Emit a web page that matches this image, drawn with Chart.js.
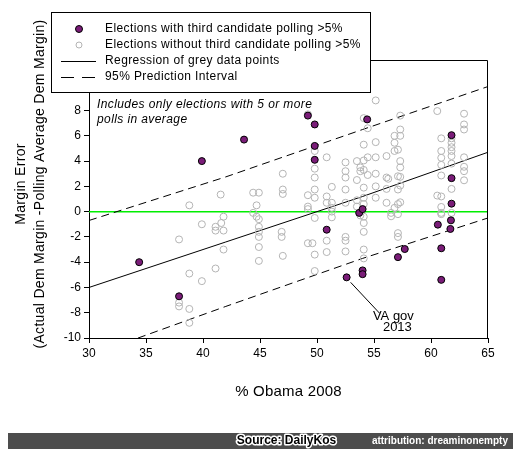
<!DOCTYPE html>
<html>
<head>
<meta charset="utf-8">
<script src="https://cdn.jsdelivr.net/npm/chart.js@4.4.1/dist/chart.umd.min.js"></script>
<style>
  html, body { margin: 0; padding: 0; background: #fff; }
  #wrap { width: 516px; height: 459px; position: relative; }
</style>
</head>
<body>
<div id="wrap"><canvas id="chart" width="516" height="459"></canvas></div>
<script>
// elections with a third candidate polling >5% (purple dots)
const thirdX = [34.4, 37.9, 39.9, 43.6, 49.2, 49.8, 49.8, 49.8, 54.4, 61.8, 61.8, 61.8, 53.7, 54.0, 50.85,
  52.6, 54.0, 54.0, 57.7, 57.1, 60.6, 60.9, 60.9, 61.75, 61.7];
const thirdY = [-4.0, -6.7, 4.0, 5.7, 7.6, 6.9, 5.2, 4.1, 7.3, 6.05, 2.65, 0.63, -0.1, 0.2, -1.43,
  -5.2, -4.65, -4.95, -2.96, -3.6, -1.03, -2.9, -5.4, -0.69, -1.37];

// elections without a third candidate (grey circles), grouped by % Obama column
const otherColX = [37.9, 38.8, 39.9, 41.1, 41.55, 41.6, 41.8, 44.4, 44.7, 44.9, 46.9, 47.0, 49.2, 49.6, 49.8,
  50.85, 51.3, 52.5, 53.5, 53.8, 54.1, 54.45, 55.15, 56.1, 56.25, 56.5, 56.8, 57.1, 57.3, 60.55, 60.9, 61.8, 62.9];
const otherColY = [
  [-2.2, -7.2, -7.5],
  [0.5, -4.9, -7.7, -8.8],
  [-1.0, -5.5],
  [-1.2, -1.5, -4.5],
  [1.35],
  [-0.9],
  [-0.4, -1.5, -3.0],
  [1.5, -0.1],
  [0.5, -0.4],
  [1.5, -0.6, -1.2, -1.6, -2.0, -2.8, -3.9],
  [-1.6, -2.0],
  [3.0, 1.75, 1.4, -3.5],
  [7.7, 1.3, 0.4, 0.2, -2.5],
  [-2.5],
  [4.8, 3.4, 2.7, 1.75, 1.1, -0.5, -3.4, -4.7],
  [4.3, 1.2, 0.7, -2.3, -3.2],
  [1.96, 0.7, 0.3, 0.0, -0.45],
  [3.9, 3.2, 2.7, 1.75, 0.7, -2.0, -2.3, -3.15],
  [4.0, 2.5, 0.9, 0.4],
  [3.5, 3.2, -0.3],
  [7.4, 5.3, 4.05, 3.3, 1.9, 1.1, 0.6, -0.4, -0.9, -1.6, -3.0, -3.7],
  [6.6, 4.3, 2.9],
  [8.8, 5.5, 4.3, 3.0, 2.0, 1.1],
  [4.4, 2.7, 1.8, 0.7],
  [2.6],
  [-0.37, -0.1],
  [6.0, 5.45, 4.8, 0.3],
  [4.9, 2.8, 1.75, 0.6, -0.2, -1.7, -2.0],
  [7.6, 6.5, 6.0, 4.0, 3.5, 2.75, 2.06, 0.74],
  [7.96, 1.27],
  [5.8, 4.8, 4.26, 3.7, 2.86, 1.2, 0.37, -0.1, -0.2],
  [5.8, 5.45, 5.1, 4.8, 4.4, 3.8, 1.8, -0.1],
  [7.75, 6.9, 6.5, 4.3, 3.55, 3.2, 2.48]
];

// regression + 95% prediction interval, read at a few x positions
const fitX = [30, 42, 54, 65];
const regressionY = [-6.0, -2.4, 1.2, 4.7];
const upperY = [-0.7, 2.75, 6.5, 9.9];
const lowerY = [-11.4, -7.5, -3.7, -0.5];
const zeroX = [30, 65];
const zeroY = [0, 0];

const legendLabels = [
  'Elections with third candidate polling >5%',
  'Elections without third candidate polling >5%',
  'Regression of grey data points',
  '95% Prediction Interval'
];
const noteLines = ['Includes only elections with 5 or more', 'polls in average'];
const vaLabel = ['VA gov', '2013'];
const vaPointIndex = 15;
const yTitle = ['Margin Error', '(Actual Dem Margin -Polling Average Dem Margin)'];
const xTitle = '% Obama 2008';

const FONT = "'Liberation Sans', Arial, sans-serif";
const PURPLE = '#7a1c78';
const GREY = '#b4b4b4';

const thirdPts = thirdX.map((x, i) => ({ x, y: thirdY[i] }));
const otherPts = [];
otherColX.forEach((x, i) => otherColY[i].forEach(y => otherPts.push({ x, y })));
const toPts = (xs, ys) => xs.map((x, i) => ({ x, y: ys[i] }));

function lineSet(label, xs, ys, color, dash, width) {
  return {
    label, data: toPts(xs, ys), showLine: true, fill: false,
    borderColor: color, borderWidth: width || 1, borderDash: dash || [],
    pointRadius: 0, pointHoverRadius: 0
  };
}

const decor = {
  id: 'decor',
  afterDatasetsDraw(chart) {
    const { ctx, chartArea: a, scales: { x, y } } = chart;
    ctx.save();
    ctx.strokeStyle = '#000';
    ctx.lineWidth = 1;
    ctx.beginPath();
    ctx.moveTo(a.left, Math.round(a.top) + 0.5);
    ctx.lineTo(Math.round(a.right) - 0.5, Math.round(a.top) + 0.5);
    ctx.lineTo(Math.round(a.right) - 0.5, a.bottom);
    ctx.stroke();

    // note text
    ctx.fillStyle = '#000';
    ctx.font = `italic 12px ${FONT}`;
    ctx.letterSpacing = '0.4px';
    ctx.textBaseline = 'middle';
    ctx.textAlign = 'left';
    ctx.fillText(noteLines[0], a.left + 8, 105);
    ctx.fillText(noteLines[1], a.left + 8, 120);

    // VA gov callout
    const px = x.getPixelForValue(thirdX[vaPointIndex]);
    const py = y.getPixelForValue(thirdY[vaPointIndex]);
    ctx.beginPath();
    ctx.moveTo(px + 4, py + 5);
    ctx.lineTo(x.getPixelForValue(55.5), y.getPixelForValue(-8.05));
    ctx.stroke();
    ctx.font = `13px ${FONT}`;
    ctx.letterSpacing = '0px';
    ctx.textAlign = 'center';
    ctx.fillText(vaLabel[0], x.getPixelForValue(56.7), y.getPixelForValue(-8.3));
    ctx.fillText(vaLabel[1], x.getPixelForValue(57.05), y.getPixelForValue(-9.15));
    ctx.restore();
  },
  afterDraw(chart) {
    const { ctx, chartArea: a } = chart;
    ctx.save();
    // axis titles
    ctx.fillStyle = '#000';
    ctx.font = `15px ${FONT}`;
    ctx.letterSpacing = '0.2px';
    ctx.textAlign = 'center';
    ctx.textBaseline = 'middle';
    ctx.fillText(xTitle, (a.left + a.right) / 2, 392);
    ctx.save();
    ctx.translate(21, 184);
    ctx.rotate(-Math.PI / 2);
    ctx.font = `14px ${FONT}`;
    ctx.letterSpacing = '0.3px';
    ctx.fillText(yTitle[0], 0, 0);
    ctx.fillText(yTitle[1], 0, 19);
    ctx.restore();

    // legend box
    ctx.fillStyle = '#fff';
    ctx.fillRect(51, 12, 320, 81);
    ctx.strokeStyle = '#000';
    ctx.lineWidth = 1;
    ctx.strokeRect(51.5, 12.5, 319, 80);
    const rows = [29, 45, 61, 77];
    ctx.beginPath();
    ctx.arc(79, rows[0], 3.5, 0, Math.PI * 2);
    ctx.fillStyle = PURPLE;
    ctx.fill();
    ctx.stroke();
    ctx.beginPath();
    ctx.arc(79, rows[1], 3, 0, Math.PI * 2);
    ctx.strokeStyle = GREY;
    ctx.stroke();
    ctx.strokeStyle = '#000';
    ctx.beginPath();
    ctx.moveTo(61, rows[2] + 0.5);
    ctx.lineTo(96, rows[2] + 0.5);
    ctx.stroke();
    ctx.setLineDash([13, 8]);
    ctx.beginPath();
    ctx.moveTo(61, rows[3] + 0.5);
    ctx.lineTo(96, rows[3] + 0.5);
    ctx.stroke();
    ctx.setLineDash([]);
    ctx.fillStyle = '#000';
    ctx.font = `12px ${FONT}`;
    ctx.letterSpacing = '0.4px';
    ctx.textAlign = 'left';
    legendLabels.forEach((t, i) => ctx.fillText(t, 105, rows[i]));

    // footer band
    ctx.letterSpacing = '0px';
    ctx.fillStyle = '#4d4d4d';
    ctx.fillRect(8, 433, 505, 16);
    ctx.font = `bold 12px ${FONT}`;
    ctx.textAlign = 'center';
    ctx.lineJoin = 'round';
    ctx.strokeStyle = '#fff';
    ctx.lineWidth = 3;
    ctx.strokeText('Source: DailyKos', 286.5, 441);
    ctx.fillStyle = '#000';
    ctx.fillText('Source: DailyKos', 286.5, 441);
    ctx.font = `bold 10px ${FONT}`;
    ctx.textAlign = 'right';
    ctx.fillStyle = '#fff';
    ctx.fillText('attribution: dreaminonempty', 508, 441);
    ctx.restore();
  }
};

new Chart(document.getElementById('chart'), {
  type: 'scatter',
  data: {
    datasets: [
      { label: legendLabels[0], data: thirdPts, pointRadius: 3.5, backgroundColor: PURPLE, borderColor: '#000', borderWidth: 1 },
      { label: legendLabels[1], data: otherPts, pointRadius: 3.5, backgroundColor: 'rgba(0,0,0,0)', borderColor: GREY, borderWidth: 1 },
      lineSet(legendLabels[2], fitX, regressionY, '#000'),
      lineSet(legendLabels[3], fitX, upperY, '#000', [8, 5]),
      lineSet('lower', fitX, lowerY, '#000', [8, 5]),
      lineSet('zero', zeroX, zeroY, '#00ee00', [], 1.5)
    ]
  },
  options: {
    responsive: false,
    animation: false,
    devicePixelRatio: 1,
    events: [],
    layout: { padding: { left: 0, top: 60, right: 28, bottom: 0 } },
    plugins: { legend: { display: false }, tooltip: { enabled: false } },
    scales: {
      x: {
        type: 'linear', min: 30, max: 65,
        ticks: { stepSize: 5, color: '#000', font: { family: FONT, size: 12 }, padding: 3, maxRotation: 0 },
        grid: { drawOnChartArea: false, drawTicks: true, tickLength: 5, color: '#000' },
        border: { color: '#000' },
        afterFit: s => { s.height = 121; }
      },
      y: {
        type: 'linear', min: -10, max: 12,
        ticks: { stepSize: 2, color: '#000', font: { family: FONT, size: 12 }, padding: 3 },
        grid: { drawOnChartArea: false, drawTicks: true, tickLength: 5, color: '#000' },
        border: { color: '#000' },
        afterFit: s => { s.width = 89; }
      }
    }
  },
  plugins: [decor]
});
</script>
</body>
</html>
